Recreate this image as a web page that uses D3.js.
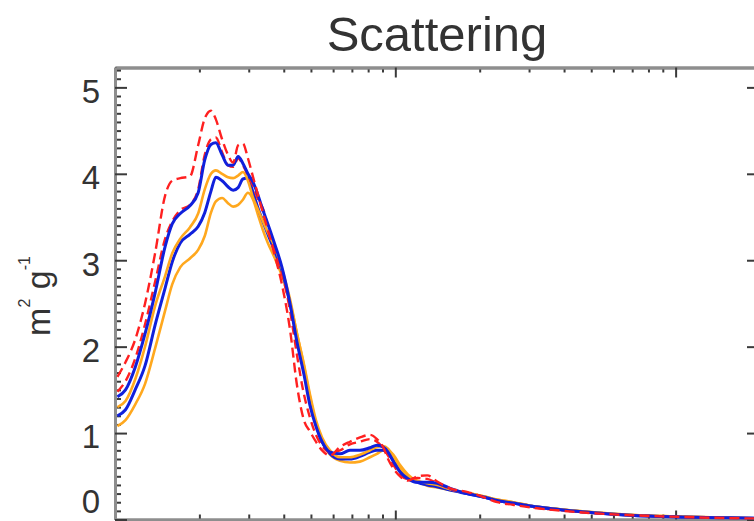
<!DOCTYPE html>
<html>
<head>
<meta charset="utf-8">
<script src="https://cdn.jsdelivr.net/npm/d3@7"></script>
<style>
  body { margin: 0; background: #fff; }
  svg { display: block; }
</style>
</head>
<body>
<svg></svg>
<script>
// SCATTERING vs size (log x axis), six curves

// x values shared by all curves
var xValues = [0.102, 0.109, 0.118, 0.128, 0.139, 0.151, 0.160, 0.171, 0.185, 0.198,
  0.209, 0.220, 0.229, 0.241, 0.253, 0.264, 0.275, 0.286, 0.298, 0.311,
  0.324, 0.337, 0.351, 0.372, 0.394, 0.421, 0.446, 0.472, 0.496, 0.521,
  0.548, 0.585, 0.635, 0.689, 0.748, 0.812, 0.860, 0.904, 0.942, 0.989,
  1.04, 1.11, 1.20, 1.30, 1.41, 1.57, 1.80, 2.06, 2.31, 2.63,
  3.03, 3.97, 5.25, 6.88, 10.4, 14.4, 20.0];

// red dashed, upper
var red1 = [1.65, 1.82, 2.08, 2.5, 3.08, 3.75, 3.92, 3.95, 3.97, 4.33,
  4.64, 4.73, 4.63, 4.4, 4.22, 4.13, 4.33, 4.35, 4.18, 3.96,
  3.75, 3.55, 3.35, 3.05, 2.72, 2.2, 1.55, 1.15, 1.02, 0.9,
  0.8, 0.74, 0.84, 0.9, 0.95, 0.98, 0.93, 0.84, 0.7, 0.58,
  0.5, 0.45, 0.5, 0.51, 0.44, 0.36, 0.32, 0.26, 0.2, 0.17,
  0.14, 0.1, 0.07, 0.05, 0.03, 0.018, 0.01];

// red dashed, lower (runs along the upper blue)
var red2 = [1.48, 1.6, 1.86, 2.26, 2.75, 3.25, 3.45, 3.58, 3.64, 3.82,
  4.22, 4.4, 4.42, 4.25, 4.1, 4.08, 4.18, 4.1, 3.98, 3.86,
  3.7, 3.6, 3.4, 3.12, 2.85, 2.42, 1.9, 1.45, 1.18, 0.98,
  0.85, 0.78, 0.8, 0.87, 0.9, 0.93, 0.9, 0.83, 0.74, 0.62,
  0.52, 0.47, 0.48, 0.47, 0.42, 0.35, 0.31, 0.26, 0.21, 0.18,
  0.145, 0.105, 0.072, 0.05, 0.03, 0.019, 0.011];

// blue, upper
var blue1 = [1.42, 1.5, 1.76, 2.15, 2.62, 3.16, 3.42, 3.54, 3.63, 3.78,
  4.16, 4.34, 4.36, 4.22, 4.1, 4.1, 4.2, 4.12, 4.0, 3.9,
  3.75, 3.58, 3.42, 3.18, 2.92, 2.5, 2.05, 1.68, 1.32, 1.08,
  0.9, 0.78, 0.76, 0.8, 0.8, 0.83, 0.86, 0.84, 0.78, 0.66,
  0.55, 0.47, 0.43, 0.43, 0.42, 0.36, 0.3, 0.26, 0.22, 0.19,
  0.155, 0.11, 0.075, 0.05, 0.03, 0.02, 0.012];

// orange, upper
var orange1 = [1.3, 1.37, 1.62, 2.0, 2.47, 2.82, 3.08, 3.25, 3.38, 3.54,
  3.82, 4.0, 4.04, 4.0, 3.96, 3.95, 3.98, 4.02, 3.92, 3.72,
  3.58, 3.45, 3.32, 3.15, 2.9, 2.55, 2.15, 1.8, 1.45, 1.15,
  0.95, 0.8, 0.72, 0.72, 0.75, 0.8, 0.84, 0.85, 0.82, 0.72,
  0.6, 0.5, 0.45, 0.42, 0.4, 0.35, 0.31, 0.27, 0.23, 0.2,
  0.16, 0.115, 0.08, 0.055, 0.033, 0.022, 0.014];

// blue, lower
var blue2 = [1.2, 1.27, 1.5, 1.78, 2.25, 2.68, 2.98, 3.2, 3.3, 3.39,
  3.55, 3.8, 3.96, 3.92, 3.85, 3.81, 3.84, 3.94, 3.95, 3.78,
  3.6, 3.45, 3.3, 3.1, 2.88, 2.5, 2.1, 1.72, 1.38, 1.1,
  0.9, 0.76, 0.7, 0.7, 0.73, 0.78, 0.8, 0.8, 0.76, 0.68,
  0.58, 0.49, 0.43, 0.4, 0.38, 0.34, 0.3, 0.26, 0.22, 0.19,
  0.155, 0.11, 0.075, 0.05, 0.03, 0.02, 0.012];

// orange, lower
var orange2 = [1.08, 1.15, 1.33, 1.57, 1.98, 2.42, 2.72, 2.92, 3.02, 3.12,
  3.28, 3.55, 3.68, 3.72, 3.66, 3.62, 3.64, 3.7, 3.78, 3.7,
  3.52, 3.35, 3.2, 3.02, 2.82, 2.52, 2.15, 1.78, 1.42, 1.12,
  0.9, 0.75, 0.68, 0.66, 0.67, 0.72, 0.76, 0.8, 0.8, 0.74,
  0.63, 0.52, 0.44, 0.39, 0.37, 0.34, 0.31, 0.27, 0.23, 0.2,
  0.16, 0.115, 0.08, 0.055, 0.033, 0.022, 0.014];

// tick labels on the y axis
var yTicks = [0, 1, 2, 3, 4, 5];
var xMajor = [0.1, 1, 10];

var svgWidth = 754, svgHeight = 521;

// plot box (the right edge sits just past the picture, as in the original)
var plot = {left: 115, right: 760, top: 67.5, bottom: 519.5};

var svg = d3.select('svg')
  .attr("width", svgWidth)
  .attr("height", svgHeight);

var xScale = d3.scaleLog()
  .domain([0.1, 20])
  .range([plot.left, plot.right]);

var yScale = d3.scaleLinear()
  .domain([0, 5.23])
  .range([plot.bottom, plot.top]);

var axisColor = "#8e8e8e", tickColor = "#3a3a3a";

// minor ticks on the log axis: 2..9 in every decade
var xMinor = xScale.ticks().filter(function(d) { return xMajor.indexOf(d) < 0; });
var yMinor = d3.range(0, 53).map(function(i) { return i / 10; })
  .filter(function(d) { return d % 1 !== 0; });

// helper that styles an axis group
function styleAxis(g) {
  g.select(".domain").attr("stroke", axisColor).attr("stroke-width", 3);
  g.selectAll(".tick line").attr("stroke", tickColor).attr("stroke-width", 2);
}

// bottom axis
svg.append("g")
  .attr("transform", "translate(0," + plot.bottom + ")")
  .call(d3.axisBottom(xScale).tickValues(xMinor).tickSize(-5).tickSizeOuter(0).tickFormat(""))
  .call(styleAxis);
svg.append("g")
  .attr("transform", "translate(0," + plot.bottom + ")")
  .call(d3.axisBottom(xScale).tickValues(xMajor).tickSize(-9).tickSizeOuter(0).tickFormat(""))
  .call(styleAxis);

// top axis
svg.append("g")
  .attr("transform", "translate(0," + plot.top + ")")
  .call(d3.axisTop(xScale).tickValues(xMinor).tickSize(-5).tickSizeOuter(0).tickFormat(""))
  .call(styleAxis);
svg.append("g")
  .attr("transform", "translate(0," + plot.top + ")")
  .call(d3.axisTop(xScale).tickValues(xMajor).tickSize(-10).tickSizeOuter(0).tickFormat(""))
  .call(styleAxis);

// left axis, minor then major with labels
svg.append("g")
  .attr("transform", "translate(" + plot.left + ",0)")
  .call(d3.axisLeft(yScale).tickValues(yMinor).tickSize(-6).tickSizeOuter(0).tickFormat(""))
  .call(styleAxis);

var yAxis = svg.append("g")
  .attr("transform", "translate(" + plot.left + ",0)")
  .call(d3.axisLeft(yScale).tickValues(yTicks).tickSize(-12).tickSizeOuter(0)
    .tickPadding(15).tickFormat(d3.format("d")))
  .call(styleAxis);

yAxis.selectAll("text")
  .attr("font-family", "Liberation Sans, Arial, sans-serif")
  .attr("font-size", 33)
  .attr("fill", "#333")
  .attr("dy", "0.36em")
  // keep the 0 inside the picture
  .attr("y", function(d) { return d === 0 ? -19 : 3; });

// right axis, major ticks only
svg.append("g")
  .attr("transform", "translate(" + plot.right + ",0)")
  .call(d3.axisRight(yScale).tickValues(yTicks).tickSize(-13).tickSizeOuter(0).tickFormat(""))
  .call(styleAxis);

// clip the curves to the plot box
svg.append("clipPath")
  .attr("id", "plot-clip")
  .append("rect")
  .attr("x", plot.left)
  .attr("y", plot.top)
  .attr("width", plot.right - plot.left)
  .attr("height", plot.bottom - plot.top);

var line = d3.line()
  .x(function(d) { return xScale(d[0]); })
  .y(function(d) { return yScale(d[1]); })
  .curve(d3.curveMonotoneX);

// drawn back to front
var curves = [
  {values: orange2, color: "#ffa81e", width: 2.6, dash: null},
  {values: blue2, color: "#1020dc", width: 3, dash: null},
  {values: orange1, color: "#ffa81e", width: 2.6, dash: null},
  {values: red2, color: "#ff2020", width: 2.4, dash: "9,5"},
  {values: blue1, color: "#1020dc", width: 3, dash: null},
  {values: red1, color: "#ff2020", width: 2.4, dash: "10,5"}
];

svg.append("g")
  .attr("clip-path", "url(#plot-clip)")
  .selectAll("path")
  .data(curves)
  .enter()
  .append("path")
  .attr("d", function(c) { return line(d3.zip(xValues, c.values)); })
  .attr("fill", "none")
  .attr("stroke", function(c) { return c.color; })
  .attr("stroke-width", function(c) { return c.width; })
  .attr("stroke-dasharray", function(c) { return c.dash; })
  .attr("stroke-linejoin", "round");

// title
svg.append("text")
  .attr("x", 437)
  .attr("y", 51)
  .attr("text-anchor", "middle")
  .attr("font-family", "Liberation Sans, Arial, sans-serif")
  .attr("font-size", 49)
  .attr("fill", "#333")
  .text("Scattering");

// y axis title: m² g⁻¹
var yTitle = svg.append("text")
  .attr("transform", "translate(50,296) rotate(-90)")
  .attr("text-anchor", "middle")
  .attr("font-family", "Liberation Sans, Arial, sans-serif")
  .attr("font-size", 34)
  .attr("fill", "#333");
yTitle.append("tspan").text("m");
yTitle.append("tspan").attr("font-size", 16).attr("dy", -20).text("2");
yTitle.append("tspan").attr("dy", 20).text(" g");
yTitle.append("tspan").attr("font-size", 16).attr("dy", -20).text("-1");
</script>
</body>
</html>
